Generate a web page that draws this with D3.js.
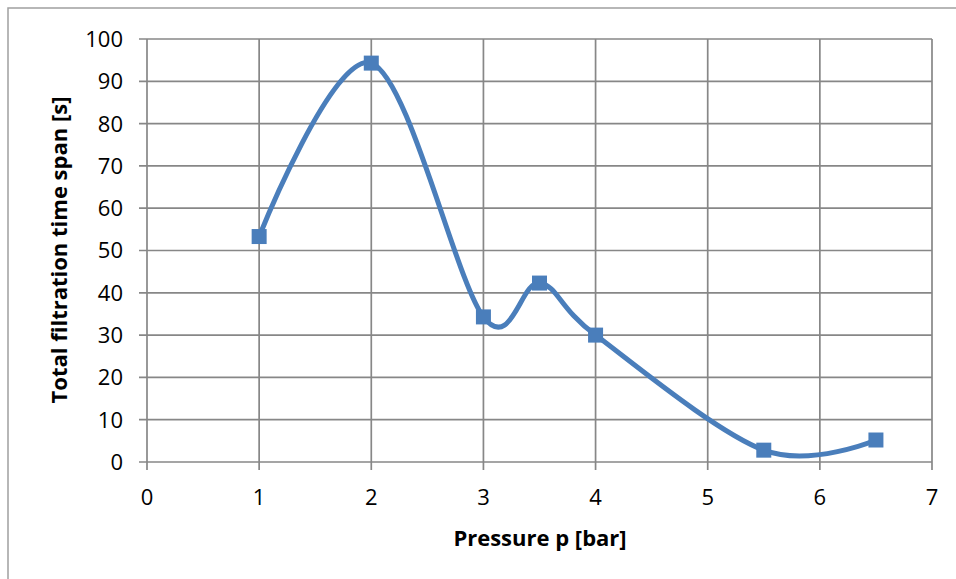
<!DOCTYPE html>
<html>
<head>
<meta charset="utf-8">
<script src="https://cdn.jsdelivr.net/npm/d3@7"></script>
<style>
  body { margin: 0; background: #ffffff; }
</style>
</head>
<body>
<div id="chart"></div>
<script>
let width = 956;
let height = 579;

// values
let pressure = [1, 2, 3, 3.5, 4, 5.5, 6.5];
let timeSpan = [53.3, 94.3, 34.3, 42.3, 30.0, 2.8, 5.2];
let xTicks = [0, 1, 2, 3, 4, 5, 6, 7];
let yTicks = [0, 10, 20, 30, 40, 50, 60, 70, 80, 90, 100];

let gridColor = "#878787";
let lineColor = "#4a7ebb";
let font = "'Open Sans', 'DejaVu Sans', sans-serif";

let svg = d3.select("#chart")
  .append("svg")
  .attr("width", width)
  .attr("height", height)
  .style("background-color", "#ffffff");

// outer chart frame (only top and left visible)
svg.append("rect")
  .attr("x", 8)
  .attr("y", 8)
  .attr("width", 1000)
  .attr("height", 700)
  .attr("fill", "none")
  .attr("stroke", "#a0a0a0")
  .attr("stroke-width", 1.5);

let xscale = d3.scaleLinear().domain([0, 7]).range([147, 932]);
let yscale = d3.scaleLinear().domain([0, 100]).range([462, 39]);

// gridlines
svg.append("g")
  .selectAll("line")
  .data(yTicks)
  .enter()
  .append("line")
  .attr("x1", xscale(0) - 8)
  .attr("x2", xscale(7))
  .attr("y1", d => yscale(d))
  .attr("y2", d => yscale(d))
  .attr("stroke", gridColor)
  .attr("stroke-width", 1.7);

svg.append("g")
  .selectAll("line")
  .data(xTicks)
  .enter()
  .append("line")
  .attr("x1", d => xscale(d))
  .attr("x2", d => xscale(d))
  .attr("y1", yscale(100))
  .attr("y2", yscale(0) + 8)
  .attr("stroke", gridColor)
  .attr("stroke-width", 1.7);

// tick labels
svg.append("g")
  .selectAll("text")
  .data(yTicks)
  .enter()
  .append("text")
  .attr("x", xscale(0) - 24)
  .attr("y", d => yscale(d))
  .attr("dy", "0.36em")
  .attr("text-anchor", "end")
  .attr("font-family", font)
  .attr("font-size", 22)
  .attr("fill", "#000")
  .text(d => d);

svg.append("g")
  .selectAll("text")
  .data(xTicks)
  .enter()
  .append("text")
  .attr("x", d => xscale(d))
  .attr("y", yscale(0) + 43)
  .attr("text-anchor", "middle")
  .attr("font-family", font)
  .attr("font-size", 22)
  .attr("fill", "#000")
  .text(d => d);

// axis titles
svg.append("text")
  .attr("x", 540)
  .attr("y", 546)
  .attr("text-anchor", "middle")
  .attr("font-family", font)
  .attr("font-size", 22)
  .attr("font-weight", "bold")
  .text("Pressure p [bar]");

svg.append("text")
  .attr("transform", `translate(67, 250) rotate(-90)`)
  .attr("text-anchor", "middle")
  .attr("font-family", font)
  .attr("font-size", 22)
  .attr("font-weight", "bold")
  .text("Total filtration time span [s]");

// smoothed series line
let points = pressure.map((p, i) => [p, timeSpan[i]]);
let line = d3.line()
  .x(d => xscale(d[0]))
  .y(d => yscale(d[1]))
  .curve(d3.curveCardinal.tension(0));

svg.append("path")
  .attr("d", line(points))
  .attr("fill", "none")
  .attr("stroke", lineColor)
  .attr("stroke-width", 5)
  .attr("stroke-linejoin", "round");

// square markers
let ms = 15;
svg.append("g")
  .selectAll("rect")
  .data(points)
  .enter()
  .append("rect")
  .attr("x", d => xscale(d[0]) - ms / 2)
  .attr("y", d => yscale(d[1]) - ms / 2)
  .attr("width", ms)
  .attr("height", ms)
  .attr("fill", lineColor);
</script>
</body>
</html>
